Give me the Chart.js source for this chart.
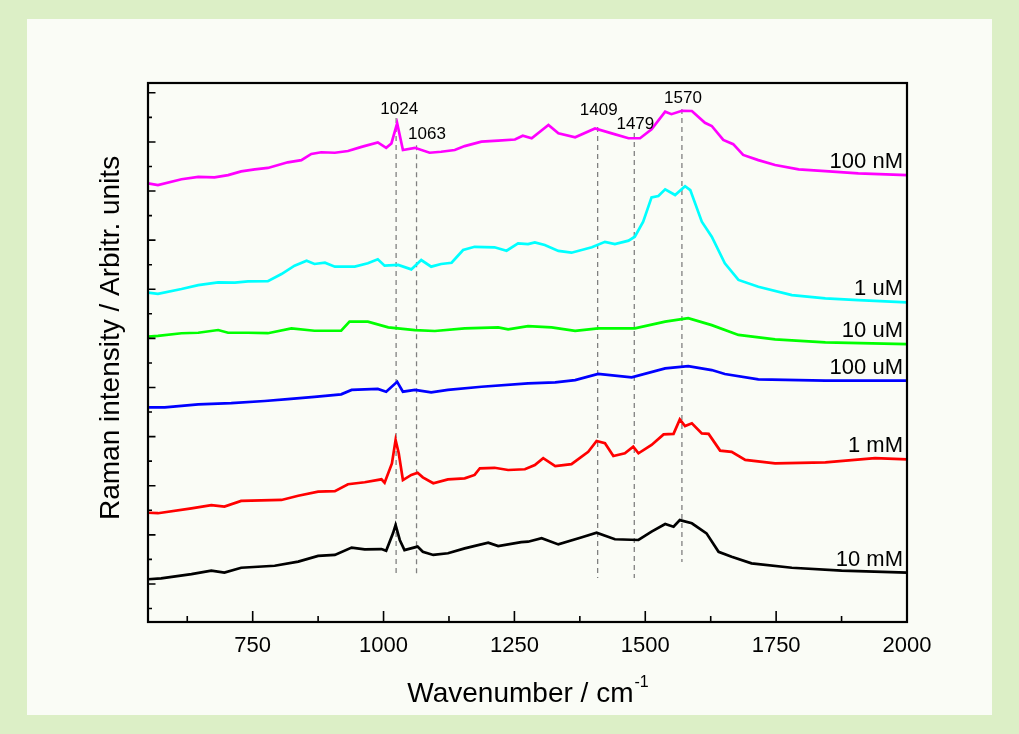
<!DOCTYPE html>
<html>
<head>
<meta charset="utf-8">
<script src="https://cdn.jsdelivr.net/npm/chart.js@4.4.1/dist/chart.umd.min.js"></script>
<style>
  html, body { margin: 0; padding: 0; background: #dcefc6; }
  body { width: 1019px; height: 734px; position: relative; overflow: hidden; }
  #panel { position: absolute; left: 27px; top: 19px; width: 965px; height: 696px; background: #fafcf6; }
</style>
</head>
<body>
<div id="panel"><canvas id="myChart" width="965" height="696"></canvas></div>
<script>
// Raman spectra, intensity in arbitrary units (offset per concentration)
const wn100nM = [550, 569, 614, 646, 677, 703, 728, 754, 779, 817, 843, 862, 881, 907, 932, 958, 989, 1005, 1015, 1026, 1037, 1060, 1088, 1110, 1136, 1155, 1187, 1219, 1251, 1266, 1283, 1315, 1334, 1366, 1404, 1436, 1468, 1490, 1512, 1538, 1550, 1570, 1589, 1614, 1627, 1649, 1668, 1687, 1716, 1748, 1793, 1844, 1907, 2000];
const int100nM = [173.1, 172.4, 174.8, 175.8, 175.6, 176.5, 178.0, 178.8, 179.4, 181.7, 182.6, 185.1, 185.8, 185.6, 186.3, 188.0, 189.8, 187.6, 189.4, 197.6, 186.7, 187.6, 185.6, 186.0, 186.7, 188.3, 190.1, 190.5, 191.0, 192.5, 191.5, 196.9, 193.5, 191.9, 195.5, 193.5, 191.5, 191.5, 195.1, 202.3, 201.3, 202.7, 202.6, 197.8, 196.5, 190.8, 189.1, 184.7, 182.6, 180.6, 178.8, 178.1, 177.2, 176.5];

const wn1uM = [550, 569, 614, 646, 684, 716, 741, 779, 805, 830, 853, 868, 888, 907, 945, 970, 989, 1002, 1028, 1053, 1072, 1091, 1110, 1130, 1152, 1174, 1212, 1235, 1257, 1276, 1289, 1308, 1334, 1359, 1398, 1423, 1442, 1468, 1480, 1496, 1512, 1525, 1538, 1557, 1576, 1586, 1608, 1627, 1652, 1678, 1716, 1780, 1844, 1907, 2000];
const int1uM = [128.6, 128.1, 130.1, 131.7, 132.8, 132.7, 133.2, 133.3, 136.2, 139.6, 141.6, 140.3, 140.8, 139.2, 139.2, 140.6, 142.2, 139.6, 139.9, 138.1, 141.9, 139.2, 140.3, 140.8, 146.0, 147.3, 147.1, 145.7, 148.7, 148.4, 149.1, 148.0, 145.6, 144.9, 147.1, 149.3, 148.4, 149.8, 151.4, 157.5, 167.4, 168.0, 170.7, 168.4, 172.0, 170.4, 157.5, 151.4, 140.6, 133.8, 131.0, 127.6, 126.3, 125.6, 124.7];

const wn10uM = [550, 569, 614, 646, 684, 703, 741, 779, 824, 868, 919, 935, 970, 1009, 1060, 1098, 1155, 1219, 1238, 1276, 1321, 1366, 1410, 1480, 1538, 1582, 1627, 1678, 1748, 1844, 2000];
const int10uM = [110.7, 111.0, 112.1, 112.3, 113.4, 112.3, 112.3, 112.1, 114.1, 113.1, 113.1, 116.8, 116.8, 114.5, 113.4, 113.0, 114.1, 114.5, 113.7, 115.0, 114.5, 113.1, 114.1, 114.1, 116.8, 118.2, 115.4, 111.4, 109.6, 108.4, 107.7];

const wn100uM = [550, 582, 646, 709, 773, 817, 868, 919, 939, 989, 1005, 1026, 1037, 1060, 1091, 1123, 1187, 1276, 1328, 1366, 1410, 1474, 1538, 1582, 1627, 1652, 1716, 1844, 2000];
const int100uM = [81.9, 81.9, 83.1, 83.6, 84.5, 85.3, 86.2, 87.2, 89.0, 89.4, 88.3, 92.3, 88.3, 89.0, 88.0, 89.0, 90.3, 91.7, 92.1, 93.0, 95.5, 94.1, 97.8, 98.7, 97.1, 95.5, 93.3, 92.8, 92.8];

const wn1mM = [550, 569, 633, 671, 696, 728, 805, 837, 875, 907, 932, 964, 996, 1002, 1016, 1023, 1029, 1037, 1053, 1065, 1075, 1095, 1123, 1155, 1174, 1184, 1212, 1238, 1270, 1289, 1305, 1328, 1359, 1391, 1407, 1423, 1439, 1461, 1477, 1487, 1512, 1535, 1554, 1566, 1576, 1589, 1608, 1621, 1643, 1665, 1691, 1748, 1844, 1939, 2000];
const int1mM = [39.0, 38.8, 40.8, 42.1, 41.5, 43.8, 44.2, 45.9, 47.6, 47.8, 50.6, 51.4, 52.6, 51.2, 59.1, 68.6, 63.2, 52.3, 54.4, 55.3, 53.4, 51.0, 52.6, 53.0, 54.4, 57.1, 57.3, 56.4, 56.7, 58.4, 61.2, 58.0, 58.8, 63.8, 68.2, 67.3, 62.1, 63.2, 65.9, 63.2, 66.6, 70.9, 71.1, 77.0, 74.3, 75.4, 71.3, 71.1, 64.3, 63.8, 60.5, 59.1, 59.5, 61.2, 60.7];

const wn10mM = [550, 575, 633, 671, 696, 728, 792, 837, 875, 907, 939, 964, 996, 1005, 1018, 1023, 1031, 1040, 1065, 1075, 1095, 1123, 1155, 1200, 1219, 1263, 1276, 1302, 1334, 1379, 1407, 1442, 1487, 1512, 1538, 1554, 1566, 1589, 1617, 1640, 1665, 1703, 1780, 1875, 2000];
const int10mM = [11.9, 12.3, 14.0, 15.4, 14.6, 16.6, 17.4, 19.1, 21.4, 21.8, 24.8, 24.1, 24.2, 23.5, 30.6, 34.0, 27.9, 23.8, 25.2, 23.1, 21.8, 22.5, 24.5, 26.8, 25.4, 27.0, 27.2, 28.6, 26.1, 29.0, 30.9, 28.2, 27.9, 31.3, 34.4, 33.3, 36.0, 34.7, 30.6, 23.1, 21.1, 18.4, 16.6, 15.4, 14.6];

const seriesNames = ['100 nM', '1 uM', '10 uM', '100 uM', '1 mM', '10 mM'];
const seriesColors = ['#ff00ff', '#00ffff', '#00ff00', '#0000ff', '#ff0000', '#000000'];
const seriesWn = [wn100nM, wn1uM, wn10uM, wn100uM, wn1mM, wn10mM];
const seriesInt = [int100nM, int1uM, int10uM, int100uM, int1mM, int10mM];

// marked bands: dashed guide lines and their labels
const peakWavenumbers = [1024, 1063, 1409, 1479, 1570];
const peakLineTop = [199.7, 188.7, 196.1, 193.6, 203.4];
const peakLineBottom = [13.2, 13.2, 12.4, 12.4, 18.9];
const peakLabelWn = [1030, 1083, 1411, 1481, 1572];
const peakLabelY = [201.3, 191.2, 200.9, 195.3, 205.9];

const xTickValues = [750, 1000, 1250, 1500, 1750, 2000];

const FONT = '"Liberation Sans", Arial, Helvetica, sans-serif';

const datasets = [];
for (let i = 0; i < seriesNames.length; i++) {
    datasets.push({
        label: seriesNames[i],
        data: seriesWn[i].map((x, k) => ({ x: x, y: seriesInt[i][k] })),
        borderColor: seriesColors[i],
        borderWidth: 2.7,
        pointRadius: 0,
        tension: 0,
        fill: false
    });
}
for (let i = 0; i < peakWavenumbers.length; i++) {
    datasets.push({
        label: 'peak ' + peakWavenumbers[i],
        data: [{ x: peakWavenumbers[i], y: peakLineTop[i] }, { x: peakWavenumbers[i], y: peakLineBottom[i] }],
        borderColor: '#808080',
        borderWidth: 1.3,
        borderDash: [5, 4],
        pointRadius: 0,
        fill: false
    });
}

// frame, inward ticks, titles and text labels
const decorPlugin = {
    id: 'decor',
    afterDraw(chart) {
        const ctx = chart.ctx;
        const area = chart.chartArea;
        const xs = chart.scales.x;
        const ys = chart.scales.y;
        ctx.save();

        ctx.strokeStyle = '#000';
        ctx.lineWidth = 1.6;
        ctx.beginPath();
        xTickValues.forEach(v => {
            const px = xs.getPixelForValue(v);
            ctx.moveTo(px, area.bottom); ctx.lineTo(px, area.bottom - 11);
            const m = v - 125;
            if (m > xs.min) {
                const pm = xs.getPixelForValue(m);
                ctx.moveTo(pm, area.bottom); ctx.lineTo(pm, area.bottom - 6);
            }
        });
        for (let v = 0; v <= 210; v += 10) {
            const py = ys.getPixelForValue(v);
            const len = (v % 20 === 10) ? 7.5 : 4;
            ctx.moveTo(area.left, py); ctx.lineTo(area.left + len, py);
        }
        ctx.stroke();

        ctx.lineWidth = 2.2;
        ctx.strokeRect(area.left, area.top, area.right - area.left, area.bottom - area.top);

        // peak labels
        ctx.fillStyle = '#000';
        ctx.font = '17px ' + FONT;
        ctx.textAlign = 'center';
        ctx.textBaseline = 'alphabetic';
        peakWavenumbers.forEach((p, i) => {
            ctx.fillText(String(p), xs.getPixelForValue(peakLabelWn[i]), ys.getPixelForValue(peakLabelY[i]));
        });

        // concentration labels above the right end of each trace
        ctx.font = '22px ' + FONT;
        ctx.textAlign = 'right';
        seriesNames.forEach((name, i) => {
            const last = seriesInt[i][seriesInt[i].length - 1];
            ctx.fillText(name, area.right - 4, ys.getPixelForValue(last) - 7);
        });

        // x title with superscript
        const main = 'Wavenumber / cm';
        ctx.font = '28px ' + FONT;
        const wMain = ctx.measureText(main).width;
        ctx.font = '16px ' + FONT;
        const wSup = ctx.measureText('-1').width;
        const cx = (area.left + area.right) / 2;
        const x0 = cx - (wMain + wSup) / 2;
        ctx.textAlign = 'left';
        ctx.font = '28px ' + FONT;
        ctx.fillText(main, x0, 683);
        ctx.font = '16px ' + FONT;
        ctx.fillText('-1', x0 + wMain + 1, 668);

        // y title, reading upwards from the lower end
        ctx.translate(92, 501);
        ctx.rotate(-Math.PI / 2);
        ctx.textAlign = 'left';
        ctx.textBaseline = 'alphabetic';
        ctx.font = '28px ' + FONT;
        ctx.fillText('Raman intensity / Arbitr. units', 0, 0);
        ctx.restore();
    }
};

const ctx = document.getElementById('myChart').getContext('2d');
const myChart = new Chart(ctx, {
    type: 'line',
    data: { datasets: datasets },
    options: {
        responsive: false,
        animation: false,
        layout: { padding: { left: 0, top: 64, right: 85, bottom: 0 } },
        plugins: { legend: { display: false }, tooltip: { enabled: false } },
        scales: {
            x: {
                type: 'linear',
                min: 550,
                max: 2000,
                border: { display: false },
                grid: { display: false, drawTicks: false },
                afterBuildTicks(scale) {
                    scale.ticks = xTickValues.map(v => ({ value: v }));
                },
                ticks: {
                    padding: 11,
                    color: '#000',
                    font: { family: FONT, size: 22 },
                    callback: v => String(v)
                },
                afterFit(scale) { scale.height = 93; }
            },
            y: {
                min: -5.5,
                max: 214,
                border: { display: false },
                grid: { display: false, drawTicks: false },
                ticks: { display: false },
                afterFit(scale) { scale.width = 121; }
            }
        }
    },
    plugins: [decorPlugin]
});
</script>
</body>
</html>
